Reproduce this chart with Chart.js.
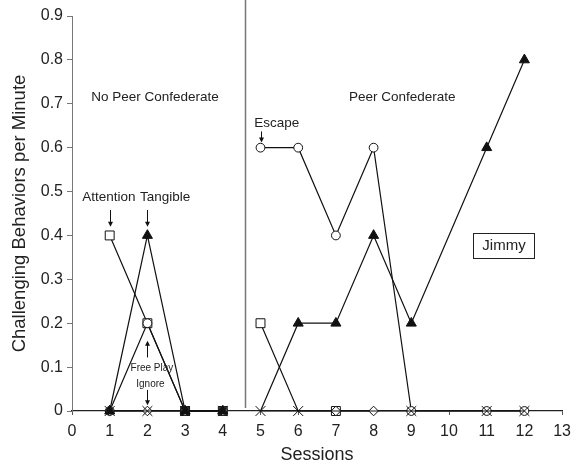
<!DOCTYPE html>
<html>
<head>
<meta charset="utf-8">
<script src="https://cdn.jsdelivr.net/npm/chart.js@4/dist/chart.umd.min.js"></script>
<style>
  html, body { margin: 0; padding: 0; background: #fff; }
  #wrap { width: 578px; height: 468px; }
</style>
</head>
<body>
<div id="wrap"><canvas id="fa"></canvas></div>
<script>
// --- data ---
const sessions = [1, 2, 3, 4, 5, 6, 7, 8, 9, 11, 12];
const attention = [0.4, 0.2, 0, 0, 0.2, 0, 0, null, null, null, null];
const tangible  = [0, 0.4, 0, 0, 0, 0.2, 0.2, 0.4, 0.2, 0.6, 0.8];
const escape    = [0, 0.2, 0, 0, 0.6, 0.6, 0.4, 0.6, 0, 0, 0];
const freePlay  = [0, 0, 0, 0, null, null, 0, 0, null, null, null];
const ignore    = [0, 0, 0, 0, 0, 0, 0, 0, 0, 0, 0];

const xTicks = [0, 1, 2, 3, 4, 5, 6, 7, 8, 9, 10, 11, 12, 13];
const yTicks = [0, 0.1, 0.2, 0.3, 0.4, 0.5, 0.6, 0.7, 0.8, 0.9];
const yTickLabels = ['0', '0.1', '0.2', '0.3', '0.4', '0.5', '0.6', '0.7', '0.8', '0.9'];

const PHASE_CHANGE = 4.6;
const FONT = '"Liberation Sans", Arial, sans-serif';
const INK = '#111';

function toPoints(values) {
    return sessions.map((s, i) => ({ x: s, y: values[i] }));
}

// no line across the phase change
const phaseBreak = {
    borderColor: ctx => (ctx.p0.parsed.x < PHASE_CHANGE && ctx.p1.parsed.x > PHASE_CHANGE) ? 'rgba(0,0,0,0)' : undefined
};

function series(label, values, style, radius, fill, hidden) {
    return {
        label: label,
        data: toPoints(values),
        borderColor: INK,
        borderWidth: 1.2,
        pointStyle: style,
        pointRadius: ctx => hidden.includes(ctx.dataIndex) ? 0 : radius,
        pointBorderColor: INK,
        pointBorderWidth: 1,
        pointBackgroundColor: fill,
        spanGaps: false,
        clip: false,
        segment: phaseBreak,
        tension: 0
    };
}

// text notes placed in data units
const notes = [
    { text: 'No Peer Confederate', x: 2.2, y: 0.715, size: 13.5 },
    { text: 'Peer Confederate', x: 8.76, y: 0.715, size: 13.5 },
    { text: 'Escape', x: 5.43, y: 0.656, size: 13.5 },
    { text: 'Attention', x: 0.98, y: 0.487, size: 13.5 },
    { text: 'Tangible', x: 2.47, y: 0.487, size: 13.5 },
    { text: 'Free Play', x: 2.12, y: 0.098, size: 10 },
    { text: 'Ignore', x: 2.08, y: 0.061, size: 10 }
];
const arrows = [
    { x: 5, from: 0.637, to: 0.612 },
    { x: 1, from: 0.458, to: 0.42 },
    { x: 2, from: 0.458, to: 0.42 },
    { x: 2, from: 0.122, to: 0.16 },
    { x: 2, from: 0.048, to: 0.013 }
];
const nameBox = { text: 'Jimmy', x0: 10.64, x1: 12.26, y: 0.378, h: 25 };

const annotations = {
    id: 'annotations',
    afterDraw(chart) {
        const ctx = chart.ctx;
        const xs = chart.scales.x, ys = chart.scales.y;
        ctx.save();

        // phase change line
        const px = Math.round(xs.getPixelForValue(PHASE_CHANGE)) + 0.5;
        ctx.strokeStyle = '#777';
        ctx.lineWidth = 1.5;
        ctx.beginPath();
        ctx.moveTo(px, 0);
        ctx.lineTo(px, ys.getPixelForValue(0.007));
        ctx.stroke();

        ctx.fillStyle = '#222';
        ctx.textAlign = 'center';
        ctx.textBaseline = 'middle';
        notes.forEach(n => {
            ctx.font = n.size + 'px ' + FONT;
            ctx.fillText(n.text, xs.getPixelForValue(n.x), ys.getPixelForValue(n.y));
        });

        ctx.strokeStyle = INK;
        ctx.fillStyle = INK;
        ctx.lineWidth = 1;
        arrows.forEach(a => {
            const x = Math.round(xs.getPixelForValue(a.x)) + 0.5;
            const y0 = ys.getPixelForValue(a.from), y1 = ys.getPixelForValue(a.to);
            const dir = y1 > y0 ? 1 : -1;
            ctx.beginPath();
            ctx.moveTo(x, y0);
            ctx.lineTo(x, y1 - dir * 4);
            ctx.stroke();
            ctx.beginPath();
            ctx.moveTo(x, y1);
            ctx.lineTo(x - 2.5, y1 - dir * 5);
            ctx.lineTo(x + 2.5, y1 - dir * 5);
            ctx.closePath();
            ctx.fill();
        });

        // name box
        const bx0 = Math.round(xs.getPixelForValue(nameBox.x0)) + 0.5;
        const bx1 = Math.round(xs.getPixelForValue(nameBox.x1)) + 0.5;
        const by = ys.getPixelForValue(nameBox.y);
        ctx.strokeStyle = '#222';
        ctx.strokeRect(bx0, Math.round(by - nameBox.h / 2) + 0.5, bx1 - bx0, nameBox.h);
        ctx.fillStyle = '#222';
        ctx.font = '15px ' + FONT;
        ctx.fillText(nameBox.text, (bx0 + bx1) / 2, by + 1);

        ctx.restore();
    }
};

new Chart(document.getElementById('fa'), {
    type: 'line',
    data: {
        // first dataset is painted on top
        datasets: [
            series('Tangible', tangible, 'triangle', 5.8, INK, [4]),
            series('Ignore', ignore, 'crossRot', 7, 'rgba(0,0,0,0)', [6, 7]),
            series('Free Play', freePlay, 'rectRot', 4.8, '#fff', []),
            series('Escape', escape, 'circle', 4.4, '#fff', []),
            series('Attention', attention, 'rect', 6.3, '#fff', [5])
        ]
    },
    options: {
        responsive: true,
        maintainAspectRatio: false,
        animation: false,
        layout: { padding: { top: 16, right: 15, left: 0, bottom: 0 } },
        plugins: {
            legend: { display: false },
            tooltip: { enabled: false }
        },
        scales: {
            x: {
                type: 'linear',
                min: 0,
                max: 13,
                afterBuildTicks: scale => { scale.ticks = xTicks.map(v => ({ value: v })); },
                afterFit: scale => { scale.height = 57; },
                grid: { drawOnChartArea: false, drawTicks: true, tickLength: 4, color: '#555' },
                border: { color: '#222', width: 1.3 },
                ticks: { color: '#222', font: { family: FONT, size: 16 }, padding: 7, maxRotation: 0 },
                title: { display: true, text: 'Sessions', color: '#222', font: { family: FONT, size: 18 }, padding: { top: 0, bottom: 2 } }
            },
            y: {
                min: 0,
                max: 0.9,
                afterBuildTicks: scale => { scale.ticks = yTicks.map(v => ({ value: v })); },
                afterFit: scale => { scale.width = 72; },
                grid: { drawOnChartArea: false, drawTicks: true, tickLength: 5, color: '#777' },
                border: { color: '#777', width: 1 },
                ticks: {
                    color: '#222',
                    font: { family: FONT, size: 16 },
                    padding: 4,
                    callback: (value, index) => yTickLabels[index]
                },
                title: { display: true, text: 'Challenging Behaviors per Minute', color: '#222', font: { family: FONT, size: 18.5 }, padding: { top: 9, bottom: 0 } }
            }
        }
    },
    plugins: [annotations]
});
</script>
</body>
</html>
